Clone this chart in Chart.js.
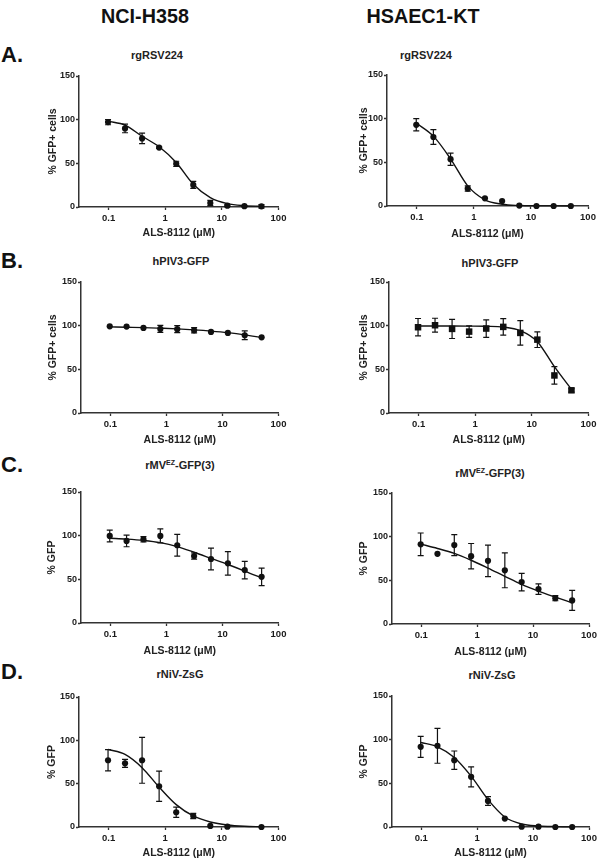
<!DOCTYPE html>
<html><head><meta charset="utf-8">
<script src="https://cdn.jsdelivr.net/npm/chart.js@4.4.1/dist/chart.umd.min.js"></script>
<style>
html,body{margin:0;padding:0;background:#fff;}
body{width:600px;height:861px;position:relative;overflow:hidden;font-family:"Liberation Sans",Arial,sans-serif;color:#111;}
.hdr{position:absolute;font-weight:bold;font-size:21px;line-height:1;transform:translate(-50%,-50%) scaleX(0.94);white-space:nowrap;}
.let{position:absolute;left:1px;font-weight:bold;font-size:22px;line-height:1;transform:translateY(-50%);}
.ttl{position:absolute;font-weight:bold;font-size:11px;line-height:1;color:#222;transform:translate(-50%,-50%);white-space:nowrap;}
.ttl sup{font-size:7px;vertical-align:0;position:relative;top:-4px;}
.pane{position:absolute;}
</style></head>
<body>
<div class="hdr" style="left:145px;top:15px">NCI-H358</div>
<div class="hdr" style="left:423px;top:15px">HSAEC1-KT</div>
<div class="let" style="top:55px">A.</div>
<div class="let" style="top:261px">B.</div>
<div class="let" style="top:465px">C.</div>
<div class="let" style="top:672px">D.</div>
<div class="ttl" style="left:157px;top:55px">rgRSV224</div>
<div class="ttl" style="left:426px;top:55px">rgRSV224</div>
<div class="ttl" style="left:181px;top:261px">hPIV3-GFP</div>
<div class="ttl" style="left:490px;top:263px">hPIV3-GFP</div>
<div class="ttl" style="left:180px;top:465px">rMV<sup>EZ</sup>-GFP(3)</div>
<div class="ttl" style="left:490px;top:473px">rMV<sup>EZ</sup>-GFP(3)</div>
<div class="ttl" style="left:180px;top:674px">rNiV-ZsG</div>
<div class="ttl" style="left:492px;top:675px">rNiV-ZsG</div>
<script>
// ---------- data ----------
const concentrations = [0.0977, 0.195, 0.39, 0.78, 1.5625, 3.125, 6.25, 12.5, 25, 50];
const xTickValues = [0.1, 1, 10, 100];
const xTickLabels = ['0.1', '1', '10', '100'];
const yTickValues = [0, 50, 100, 150];
const xAxisTitle = 'ALS-8112 (\u03BCM)';

// A. rgRSV224
const rsvH358Mean = [97.2, 90, 78.5, 68, 49.4, 25.3, 4.6, 1.5, 1, 0.8];
const rsvH358Err  = [3, 5, 6, 1, 3, 4, 3, 1, 0.5, 2];
const rsvH358Fit  = [98.3, 93.8, 81, 69, 51, 26, 10.7, 3.8, 1.5, 0.8];
const rsvKTMean = [93, 79, 53.6, 20, 8.8, 5.7, 0.5, 0, 0, 0];
const rsvKTErr  = [7, 8.5, 7, 3, 0, 0, 0, 0, 0, 0];
const rsvKTFit  = [95, 80, 54, 23, 7, 2, 0.6, 0.2, 0.1, 0];
// B. hPIV3-GFP
const piv3H358Mean = [99.3, 99, 97.4, 96.3, 96, 94.7, 92.8, 91.7, 89, 86.7];
const piv3H358Err  = [0, 0, 0, 4, 4, 3, 0, 0, 5, 0];
const piv3H358Fit  = [98.6, 98.2, 97.8, 97.1, 96.3, 95.2, 93.8, 92, 89.5, 86.3];
const piv3KTMean = [98.2, 100.5, 96.3, 93.2, 96.7, 98.6, 91.7, 84, 43, 26];
const piv3KTErr  = [10, 8, 11, 6.5, 10, 9.5, 14, 9, 10, 2];
const piv3KTFit  = [99.6, 99.6, 99.6, 99.5, 99.3, 98.5, 94.4, 81.7, 53, 27];
// C. rMV-EZ-GFP(3)
const mvH358Mean = [99.7, 94, 95.9, 99.7, 89, 76.7, 73.3, 68.3, 60.6, 52.9];
const mvH358Err  = [6.7, 6.7, 3, 8, 12.5, 3.5, 12.5, 13.5, 10, 10];
const mvH358Fit  = [97, 96, 94.5, 92, 87.5, 81, 74, 67, 59.5, 51.5];
const mvKTMean = [91.2, 80.4, 90.4, 77.7, 72.3, 61.5, 48, 40, 29.6, 27];
const mvKTErr  = [13, 0, 12, 14.5, 18, 20, 10, 6, 3, 11.5];
const mvKTFit  = [91.5, 86.5, 80.8, 73, 64, 54.6, 45.4, 37.7, 30.8, 24.2];
// D. rNiV-ZsG
const nivH358Mean = [77, 73.5, 77, 47, 17, 12.7, 1.2, 0.4, null, 0];
const nivH358Err  = [12.3, 4.6, 26.5, 17.5, 6, 3, 0, 0, 0, 0];
const nivH358Fit  = [89.6, 83.8, 68.5, 46, 25.8, 12.7, 5.8, 2.3, 0.8, 0.3];
const nivKTMean = [91.8, 93, 76.5, 57.4, 29.8, 9.6, 0.4, 0.4, 0, 0];
const nivKTErr  = [12, 20, 10.5, 11.5, 5, 0, 0, 0, 0, 0];
const nivKTFit  = [96.8, 91.8, 79.6, 58.2, 31.4, 11.5, 3.4, 1.1, 0.4, 0.1];

// ---------- layout ----------
const family = '"Liberation Sans", Arial, sans-serif';
const panels = [
  {col:0, L:79,  R:278.5, T:76,  B:207, yTitleX:53,  xTitleY:233, yTitle:'% GFP+ cells', mean:rsvH358Mean,  err:rsvH358Err,  fit:rsvH358Fit,  marker:'circle'},
  {col:1, L:387, R:588,   T:75,  B:206, yTitleX:364, xTitleY:234, yTitle:'% GFP+ cells', mean:rsvKTMean,    err:rsvKTErr,    fit:rsvKTFit,    marker:'circle'},
  {col:0, L:81,  R:278.5, T:282, B:413, yTitleX:53,  xTitleY:440, yTitle:'% GFP+ cells', mean:piv3H358Mean, err:piv3H358Err, fit:piv3H358Fit, marker:'circle'},
  {col:1, L:389, R:588.5, T:282, B:413, yTitleX:364, xTitleY:440, yTitle:'% GFP+ cells', mean:piv3KTMean,   err:piv3KTErr,   fit:piv3KTFit,   marker:'rect'},
  {col:0, L:81,  R:278.5, T:492, B:623, yTitleX:52,  xTitleY:651, yTitle:'% GFP', mean:mvH358Mean, err:mvH358Err, fit:mvH358Fit, marker:'circle'},
  {col:1, L:392, R:589,   T:493, B:624, yTitleX:364, xTitleY:652, yTitle:'% GFP', mean:mvKTMean,   err:mvKTErr,   fit:mvKTFit,   marker:'circle'},
  {col:0, L:79,  R:278.5, T:697, B:827, yTitleX:52,  xTitleY:853, yTitle:'% GFP', mean:nivH358Mean, err:nivH358Err, fit:nivH358Fit, marker:'circle'},
  {col:1, L:392, R:589,   T:696, B:827, yTitleX:364, xTitleY:853, yTitle:'% GFP', mean:nivKTMean,   err:nivKTErr,   fit:nivKTFit,   marker:'circle'}
];

const errorBarPlugin = {
  id: 'errorBars',
  afterDatasetsDraw(chart) {
    const ds = chart.data.datasets[0];
    const errs = ds.errorBars;
    if (!errs) return;
    const {ctx} = chart;
    const xs = chart.scales.x, ys = chart.scales.y;
    ctx.save();
    ctx.strokeStyle = '#111';
    ctx.lineWidth = 1.2;
    ds.data.forEach((p, i) => {
      const e = errs[i];
      if (p.y == null || !e) return;
      const px = xs.getPixelForValue(p.x);
      const yTop = ys.getPixelForValue(p.y + e);
      const yBot = ys.getPixelForValue(p.y - e);
      ctx.beginPath();
      ctx.moveTo(px, yTop); ctx.lineTo(px, yBot);
      ctx.moveTo(px - 3, yTop); ctx.lineTo(px + 3, yTop);
      ctx.moveTo(px - 3, yBot); ctx.lineTo(px + 3, yBot);
      ctx.stroke();
    });
    ctx.restore();
  }
};

const titleFont = 10.5, titleLH = titleFont * 1.2;
panels.forEach(p => {
  const cLeft = p.col * 300, cWidth = 300;
  const cTop = p.T - 22;
  const cHeight = Math.round(p.xTitleY + 10 - cTop);
  const yScaleLeft = p.yTitleX - titleLH / 2;
  const yScaleWidth = p.L - yScaleLeft;
  const xScaleBottom = p.xTitleY + titleLH / 2;
  const xScaleHeight = xScaleBottom - p.B;

  const wrap = document.createElement('div');
  wrap.className = 'pane';
  wrap.style.left = cLeft + 'px';
  wrap.style.top = cTop + 'px';
  wrap.style.width = cWidth + 'px';
  wrap.style.height = cHeight + 'px';
  const cv = document.createElement('canvas');
  cv.width = cWidth; cv.height = cHeight;
  cv.style.width = cWidth + 'px'; cv.style.height = cHeight + 'px';
  wrap.appendChild(cv);
  document.body.appendChild(wrap);

  const yTickFont = {family, size: 9, weight: 'bold'};
  const xTickFont = {family, size: 9.5, weight: 'bold'};
  const axTitleFont = {family, size: titleFont, weight: 'bold'};
  new Chart(cv, {
    type: 'line',
    data: {
      datasets: [
        {
          data: concentrations.map((c, i) => ({x: c, y: p.mean[i]})),
          errorBars: p.err,
          showLine: false,
          pointStyle: p.marker,
          pointRadius: p.marker === 'rect' ? 4.6 : 3.1,
          pointBackgroundColor: '#111',
          pointBorderColor: '#111',
          pointBorderWidth: 0,
          clip: false
        },
        {
          data: concentrations.map((c, i) => ({x: c, y: p.fit[i]})),
          borderColor: '#111',
          borderWidth: 1.4,
          pointRadius: 0,
          fill: false,
          cubicInterpolationMode: 'monotone',
          clip: false
        }
      ]
    },
    options: {
      responsive: false,
      animation: false,
      devicePixelRatio: 1,
      layout: {padding: {left: yScaleLeft - cLeft, right: cLeft + cWidth - p.R, top: p.T - cTop, bottom: cTop + cHeight - xScaleBottom}},
      plugins: {legend: {display: false}, tooltip: {enabled: false}},
      scales: {
        x: {
          type: 'logarithmic', min: 0.03, max: 100,
          afterBuildTicks: s => { s.ticks = xTickValues.map(v => ({value: v})); },
          afterFit: s => { s.height = xScaleHeight; },
          ticks: {callback: (v, i) => xTickLabels[i], font: xTickFont, color: '#1a1a1a', padding: 3, maxRotation: 0, autoSkip: false},
          grid: {display: true, drawOnChartArea: false, drawTicks: true, tickLength: 3, tickWidth: 1.3, tickColor: '#333'},
          border: {display: true, color: '#333', width: 1.5},
          title: {display: true, text: xAxisTitle, font: axTitleFont, color: '#222', padding: 0}
        },
        y: {
          type: 'linear', min: 0, max: 150,
          afterBuildTicks: s => { s.ticks = yTickValues.map(v => ({value: v})); },
          afterFit: s => { s.width = yScaleWidth; },
          ticks: {font: yTickFont, color: '#1a1a1a', padding: 1},
          grid: {display: true, drawOnChartArea: false, drawTicks: true, tickLength: 3, tickWidth: 1.3, tickColor: '#333'},
          border: {display: true, color: '#333', width: 1.5},
          title: {display: true, text: p.yTitle, font: axTitleFont, color: '#222', padding: 0}
        }
      }
    },
    plugins: [errorBarPlugin]
  });
});
</script>
</body></html>
